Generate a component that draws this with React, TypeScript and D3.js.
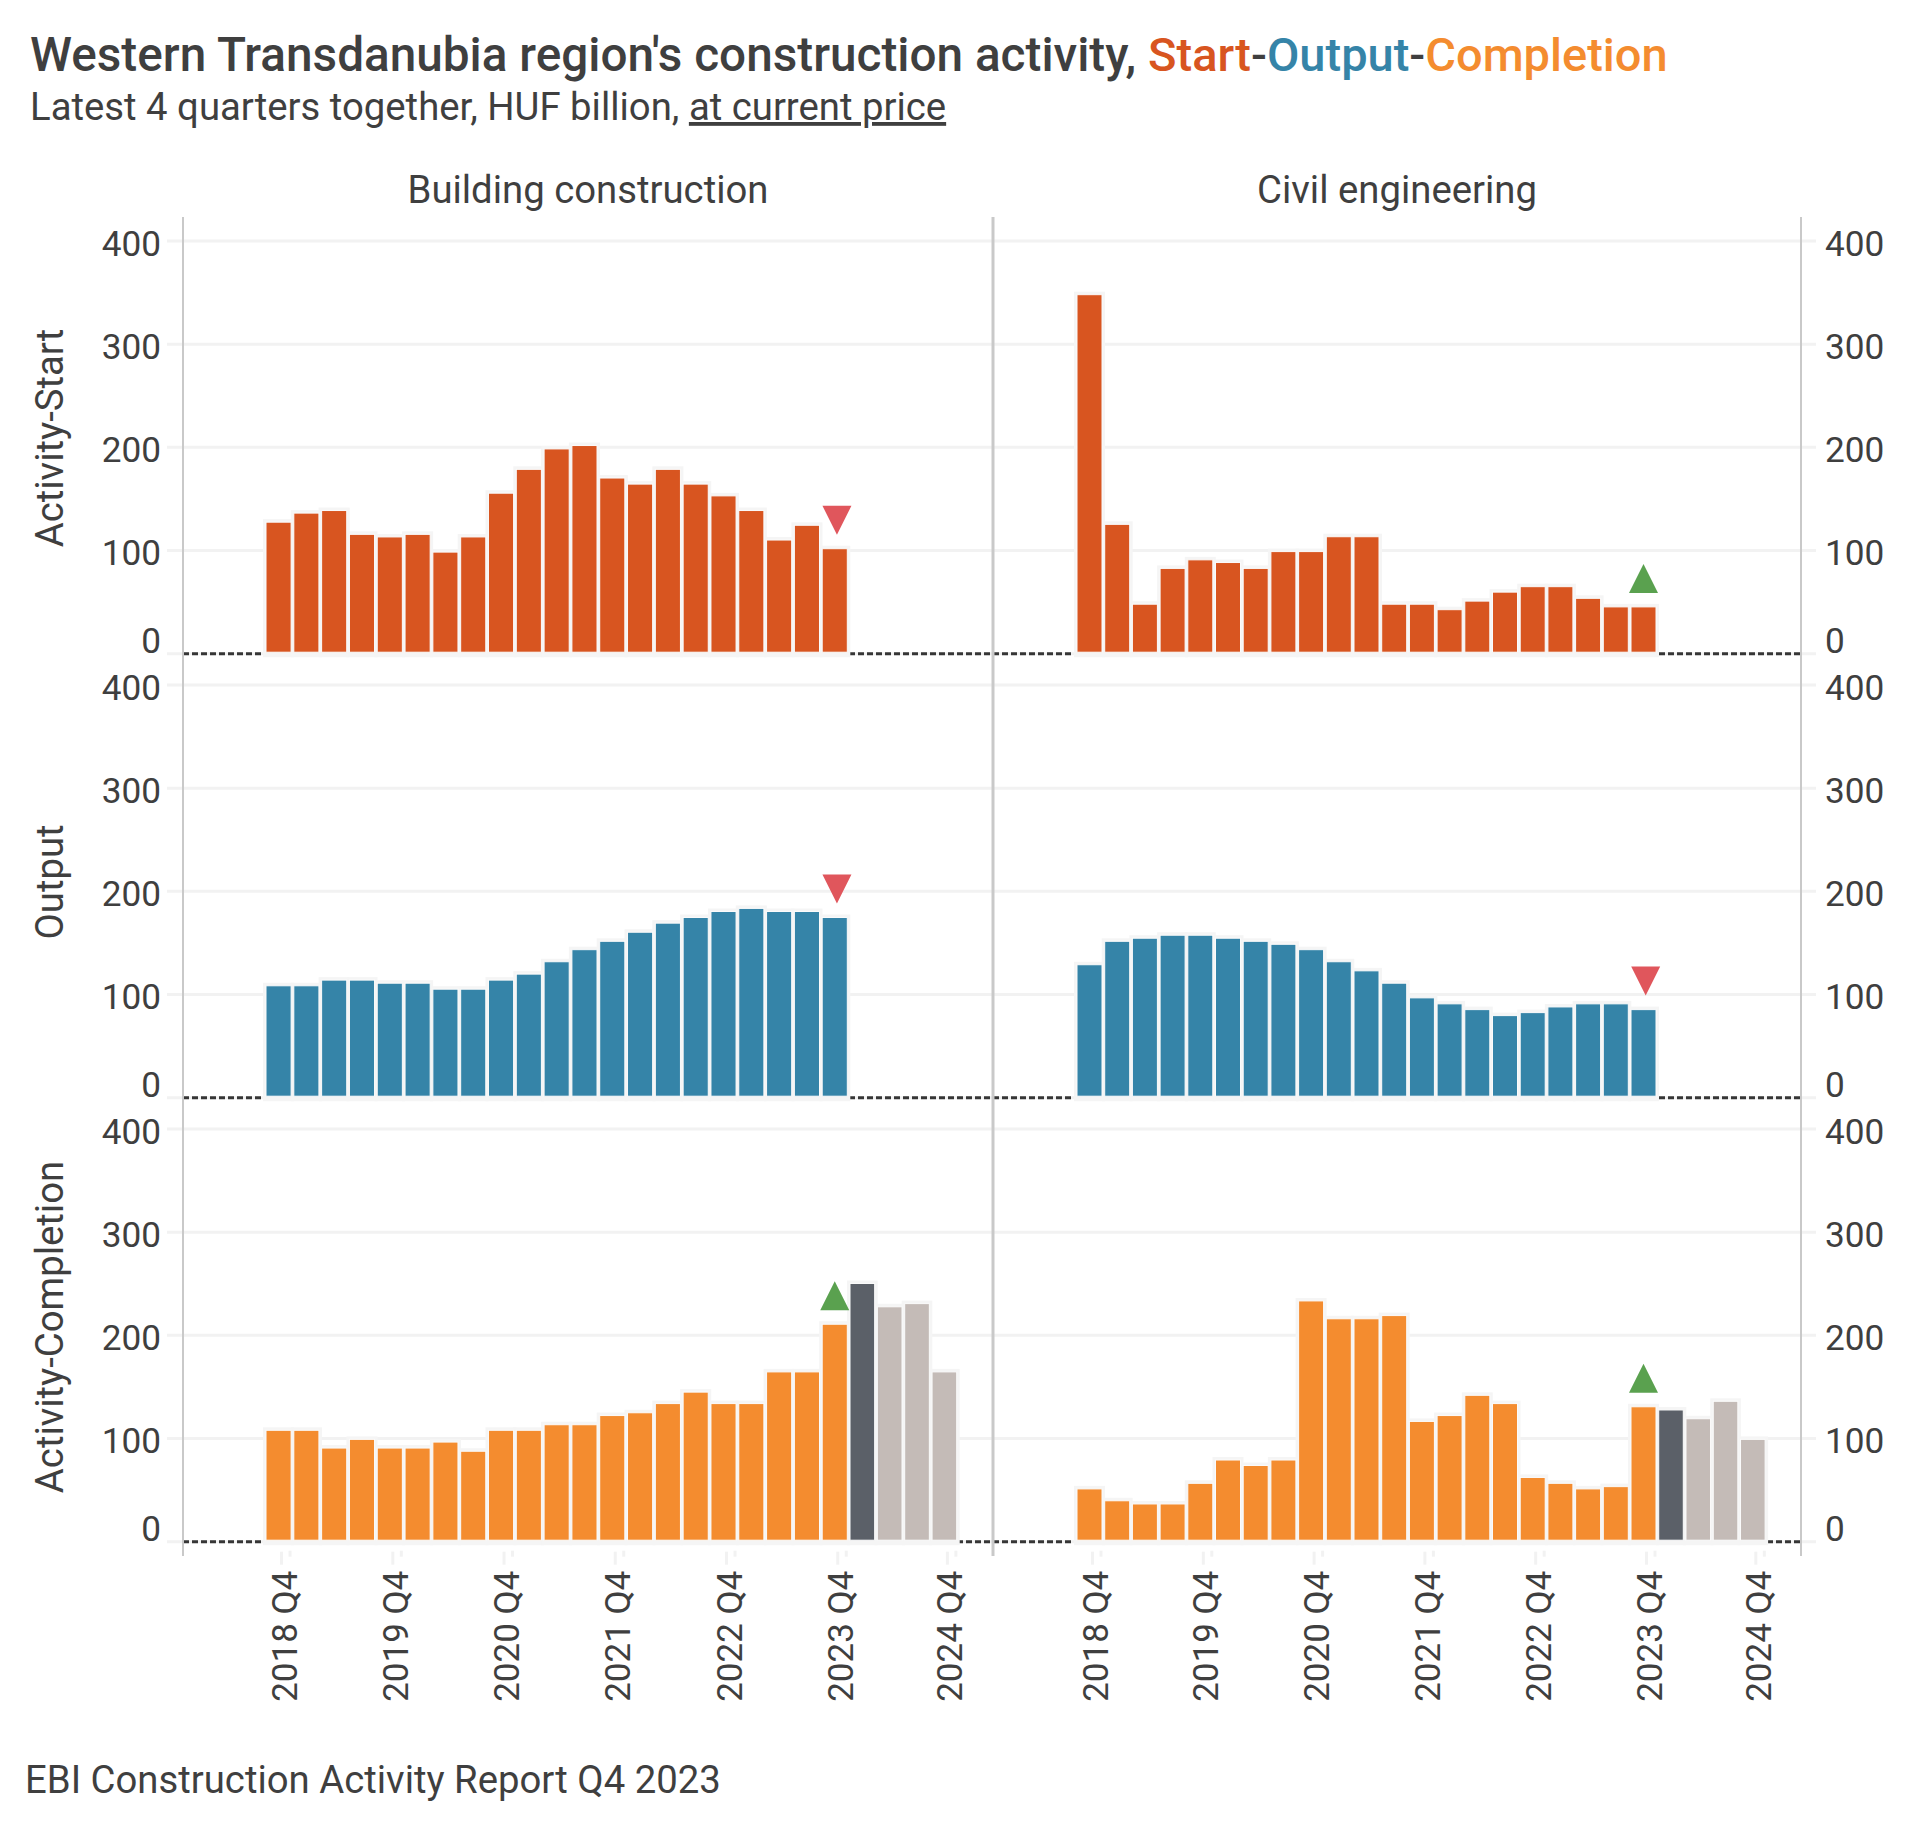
import { useEffect, useRef } from 'react';
import * as d3 from 'd3';

const quarters = [
  '2018 Q4', '2019 Q1', '2019 Q2', '2019 Q3', '2019 Q4', '2020 Q1', '2020 Q2', '2020 Q3', '2020 Q4',
  '2021 Q1', '2021 Q2', '2021 Q3', '2021 Q4', '2022 Q1', '2022 Q2', '2022 Q3', '2022 Q4',
  '2023 Q1', '2023 Q2', '2023 Q3', '2023 Q4', '2024 Q1', '2024 Q2', '2024 Q3', '2024 Q4',
];
const labelledQuarters = ['2018 Q4', '2019 Q4', '2020 Q4', '2021 Q4', '2022 Q4', '2023 Q4', '2024 Q4'];
const yTicks = [0, 100, 200, 300, 400];

const startBuilding = [126.5, 135.3, 137.8, 114.7, 112.2, 114.7, 97.5, 112.2, 154.6, 177.7, 197.5, 200.8, 169.3, 163.4, 177.7, 163.4, 152, 137.8, 109.2, 123.5, 100.8];
const startCivil = [347, 124.4, 47, 81.7, 90, 87.4, 81.7, 98, 98, 112.4, 112.4, 47, 47, 41.7, 50, 58.7, 64, 64, 52.7, 44.4, 44.4];
const outputBuilding = [107.5, 107.5, 113, 113, 110, 110, 104.2, 104.2, 113, 118.8, 130.8, 142.5, 150.6, 159.4, 168.2, 173.7, 179.5, 182.5, 179.5, 179.5, 173.7];
const outputCivil = [127.9, 150.6, 153.6, 156.5, 156.5, 153.6, 150.6, 147.7, 142.5, 130.8, 122, 110, 95.8, 90, 84.4, 78.6, 81.5, 87, 90, 90, 84.4];
const completionBuilding = [107, 107, 89.8, 98.2, 89.8, 89.8, 95.6, 86.7, 107, 107, 112.4, 112.4, 121.3, 124, 132.9, 144, 132.9, 132.9, 163.6, 163.6, 209.8];
const completionCivil = [50.2, 38.7, 35.6, 35.6, 55.6, 78.2, 72.9, 78.2, 232.4, 215.1, 215.1, 218.2, 115.6, 121.3, 140.9, 132.9, 61.3, 55.6, 50.2, 52.4, 129.8];
// dark bar first, then the forecast quarters
const forecastBuilding = [249.3, 226.7, 229.8, 163.6];
const forecastCivil = [126.7, 118.2, 135.1, 98.2];

const TEXT = '#3f3f3f';
const ORANGE_RED = '#d85520';
const BLUE = '#3584a8';
const ORANGE = '#f48c2f';
const DARK = '#5b6068';
const GREY = '#c4bbb7';
const UP = '#5aa14f';
const DOWN = '#e0565c';
const GRID = '#f2f2f2';
const AXIS = '#c9c9c9';
const FONT = 'Roboto, sans-serif';

const rows = [
  { title: 'Activity-Start', top: 241, titleY: 438, color: ORANGE_RED, series: [startBuilding, startCivil], marks: ['down', 'up'] },
  { title: 'Output', top: 685, titleY: 882, color: BLUE, series: [outputBuilding, outputCivil], marks: ['down', 'down'] },
  { title: 'Activity-Completion', top: 1129, titleY: 1327, color: ORANGE, series: [completionBuilding, completionCivil], marks: ['up', 'up'], forecast: [forecastBuilding, forecastCivil] },
];
// barStops: left edge of the first bar, of the first forecast bar and the end of the last step
const columns = [
  { title: 'Building construction', left: 183, right: 993, barStops: [266, 850, 959.4], gridFrom: 167, gridTo: 993 },
  { title: 'Civil engineering', left: 993, right: 1801, barStops: [1077, 1658.7, 1767.8], gridFrom: 993, gridTo: 1816 },
];
const ROW_H = 412.7;
const BAR_GAP = 2.7;

export default function App() {
  const svgRef = useRef<SVGSVGElement>(null);

  useEffect(() => {
    const svg = d3.select(svgRef.current);
    svg.selectAll('*').remove();

    // title block
    const title = svg.append('text').attr('x', 30).attr('y', 71).attr('font-size', 47.7).attr('font-weight', 500).attr('fill', TEXT);
    title.append('tspan').text("Western Transdanubia region's construction activity, ");
    const coloured = title.append('tspan').attr('font-size', 47);
    coloured.append('tspan').attr('fill', ORANGE_RED).text('Start');
    coloured.append('tspan').text('-');
    coloured.append('tspan').attr('fill', BLUE).text('Output');
    coloured.append('tspan').text('-');
    coloured.append('tspan').attr('fill', ORANGE).text('Completion');

    const sub = svg.append('text').attr('x', 30).attr('y', 120).attr('font-size', 38.3).attr('fill', TEXT);
    sub.append('tspan').text('Latest 4 quarters together, HUF billion, ');
    sub.append('tspan').attr('text-decoration', 'underline').text('at current price');

    svg.append('text').attr('x', 25).attr('y', 1793).attr('font-size', 38.3).attr('fill', TEXT)
      .text('EBI Construction Activity Report Q4 2023');

    columns.forEach((col, c) => {
      const step = d3.scaleLinear().domain([0, 21, 25]).range(col.barStops);
      const barX = (q: string) => step(quarters.indexOf(q));
      const barW = (q: string) => step(quarters.indexOf(q) + 1) - barX(q) - BAR_GAP;

      svg.append('text').attr('x', (col.left + col.right) / 2).attr('y', 202.5).attr('text-anchor', 'middle')
        .attr('font-size', 38.3).attr('fill', TEXT).text(col.title);

      rows.forEach(row => {
        const y = d3.scaleLinear().domain([0, 400]).range([row.top + ROW_H, row.top]);
        const g = svg.append('g');

        g.selectAll('line.grid').data(yTicks).join('line').attr('class', 'grid')
          .attr('x1', col.gridFrom).attr('x2', col.gridTo)
          .attr('y1', d => y(d)).attr('y2', d => y(d))
          .attr('stroke', GRID).attr('stroke-width', 3);

        g.append('line').attr('x1', col.left).attr('x2', col.right).attr('y1', y(0)).attr('y2', y(0))
          .attr('stroke', '#363636').attr('stroke-width', 3).attr('stroke-dasharray', '6 3');

        const values = row.series[c];
        const bars = values.map((v, i) => ({ q: quarters[i], v, fill: row.color }));
        if (row.forecast) {
          row.forecast[c].forEach((v, i) => {
            bars.push({ q: quarters[values.length + i], v, fill: i === 0 ? DARK : GREY });
          });
        }
        const base = y(0) - 1.5;
        const topOf = (v: number) => y(v) - 1;

        // pale halo behind the bars, it also hides the grid and the dashes next to them
        g.selectAll('rect.halo').data(bars).join('rect').attr('class', 'halo')
          .attr('x', d => barX(d.q)).attr('width', d => barW(d.q))
          .attr('y', d => topOf(d.v)).attr('height', d => base + 2 - topOf(d.v))
          .attr('fill', '#f5f5f5').attr('stroke', '#f5f5f5').attr('stroke-width', 6);

        g.selectAll('rect.bar').data(bars).join('rect').attr('class', 'bar')
          .attr('x', d => barX(d.q)).attr('width', d => barW(d.q))
          .attr('y', d => topOf(d.v)).attr('height', d => base - topOf(d.v))
          .attr('fill', d => d.fill).attr('stroke', '#fbfbfb').attr('stroke-width', 1);

        // change marker over the latest actual quarter
        const last = quarters[values.length - 1];
        const cx = barX(last) + barW(last) / 2;
        const barTop = y(values[values.length - 1]);
        const isUp = row.marks[c] === 'up';
        const mx = cx + (isUp ? 0 : 2.2);
        const near = barTop - 15;
        const far = near - 29;
        const tri = d3.path();
        if (isUp) {
          tri.moveTo(mx - 14.5, near);
          tri.lineTo(mx + 14.5, near);
          tri.lineTo(mx, far);
        } else {
          tri.moveTo(mx - 14.5, far);
          tri.lineTo(mx + 14.5, far);
          tri.lineTo(mx, near);
        }
        tri.closePath();
        g.append('path').attr('d', tri.toString()).attr('fill', isUp ? UP : DOWN);

        // y axis labels
        const axis = c === 0 ? d3.axisLeft(y) : d3.axisRight(y);
        const axisG = g.append('g')
          .attr('transform', `translate(${c === 0 ? 161 : 1825},0)`)
          .call(axis.tickValues(yTicks).tickSize(0).tickPadding(0));
        axisG.select('.domain').remove();
        axisG.selectAll('text')
          .attr('font-family', FONT).attr('font-size', 35.2).attr('fill', TEXT)
          .attr('dy', (d: any) => (d === 0 ? -1.5 : 14));

        if (c === 0) {
          svg.append('text').attr('transform', `translate(63,${row.titleY}) rotate(-90)`)
            .attr('text-anchor', 'middle').attr('font-size', 38.3).attr('fill', TEXT).text(row.title);
        }
      });

      // x axis: two small faint ticks per label, text rotated and read upward
      const lastRowZero = rows[2].top + ROW_H;
      const centre = (q: string) => barX(q) + barW(q) / 2;
      const xg = svg.append('g');
      xg.selectAll('line.t1').data(labelledQuarters).join('line').attr('class', 't1')
        .attr('x1', d => centre(d) + 3).attr('x2', d => centre(d) + 3)
        .attr('y1', lastRowZero + 10).attr('y2', lastRowZero + 23)
        .attr('stroke', GRID).attr('stroke-width', 3);
      xg.selectAll('line.t2').data(labelledQuarters).join('line').attr('class', 't2')
        .attr('x1', d => centre(d) + 11.5).attr('x2', d => centre(d) + 11.5)
        .attr('y1', lastRowZero + 9).attr('y2', lastRowZero + 15)
        .attr('stroke', GRID).attr('stroke-width', 3);
      xg.selectAll('text').data(labelledQuarters).join('text')
        .attr('transform', d => `translate(${centre(d) + 18},${lastRowZero + 29}) rotate(-90)`)
        .attr('text-anchor', 'end').attr('font-size', 35).attr('fill', TEXT).text(d => d);
    });

    // panel frame lines, the middle one is a bit heavier
    const frameX = [183, 993, 1801];
    svg.selectAll('line.frame').data(frameX).join('line').attr('class', 'frame')
      .attr('x1', d => d).attr('x2', d => d).attr('y1', 217).attr('y2', 1556)
      .attr('stroke', AXIS).attr('stroke-width', d => (d === 993 ? 3 : 2));
  }, []);

  return (
    <svg ref={svgRef} width={1920} height={1821} fontFamily={FONT}
      style={{ position: 'absolute', left: 0, top: 0, background: '#fff' }} />
  );
}
